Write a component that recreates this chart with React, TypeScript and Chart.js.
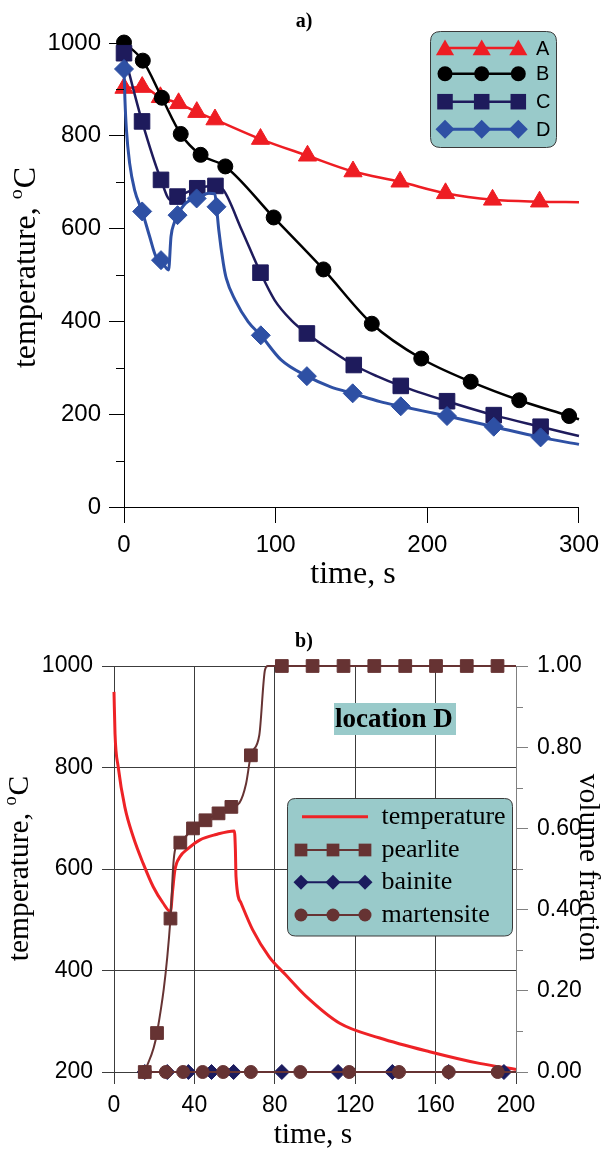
import React, { useEffect, useRef } from 'react';
import { Chart, registerables } from 'chart.js';

Chart.register(...registerables);

const SERIF = '"Liberation Serif", "Times New Roman", serif';
const SANS = '"Liberation Sans", Arial, sans-serif';

// ---------------- Panel a) data ----------------
const seriesNamesA = ['A', 'B', 'C', 'D'];
const timeTicksA = [0, 100, 200, 300];
const tempTicksA = [0, 200, 400, 600, 800, 1000];
const tempMinorTicksA = [100, 300, 500, 700, 900];

const markTimeA = [0, 12, 24, 36, 48, 60, 90, 121, 151, 182, 212, 243, 274];
const markTempA = [903, 905, 883, 870, 851, 835, 793, 757, 723, 701, 676, 662, 658];
const lineTimeA = [300];
const lineTempA = [657];

const markTimeB = [0, 12.4, 25, 37.4, 50.5, 66.8, 98.7, 131.5, 163.4, 196, 228.6, 260.6, 293.5];
const markTempB = [1001, 962, 882, 804, 759, 734, 624, 512, 395, 320, 270, 230, 196];
const lineTimeB = [300];
const lineTempB = [189];

const markTimeC = [0, 11.9, 24.4, 35.3, 48.3, 60.3, 90, 120.6, 151.5, 182.5, 213, 243.8, 274.7];
const markTempC = [978, 831, 705, 669, 687, 692, 505, 374, 306, 261, 228, 198, 173];
const lineTimeC = [30.5, 65.6, 77.6, 99.3, 110.2, 136.2, 166.7, 300];
const lineTempC = [662, 683, 597, 446, 403, 338, 282, 153];

const markTimeD = [0, 12, 24.4, 35.3, 47.9, 61, 90.2, 120.6, 150.8, 182.5, 213, 243.8, 274.7];
const markTempD = [944, 637, 532, 629, 665, 647, 370, 282, 245, 217, 196, 173, 150];
const lineTimeD = [0.6, 1.6, 3.7, 7, 16.9, 21.2, 29.4, 31, 33.1, 40.7, 56, 59.9, 62.5, 65.5, 67.5, 73.3, 81.9, 103.6, 136.2, 168.8, 300];
const lineTempD = [880, 813, 741, 683, 583, 539, 511, 583, 612, 655, 676, 675, 597, 525, 492, 446, 399, 317, 259, 227, 135];

// ---------------- Panel b) data ----------------
const seriesNamesB = ['temperature', 'pearlite', 'bainite', 'martensite'];
const timeTicksB = [0, 40, 80, 120, 160, 200];
const tempTicksB = [200, 400, 600, 800, 1000];
const fracTicksB = [0, 0.2, 0.4, 0.6, 0.8, 1.0];
const fracMinorTicksB = [0.1, 0.3, 0.5, 0.7, 0.9];

const tempTimeB = [0, 0.5, 2.1, 5.4, 9.6, 14.5, 19.5, 24.4, 28.1, 29.2, 30.3, 32.8, 36.8, 42.6, 50.8, 59.9, 60.4, 60.7, 63.2, 69, 77.2, 85.5, 95.6, 112.3, 132.2, 157, 181.8, 200];
const tempValB = [949, 867, 801, 722, 663, 611, 565, 533, 516, 559, 598, 624, 640, 657, 668, 675, 637, 585, 533, 480, 427, 391, 349, 296, 267, 240, 217, 205];

const markTimeP = [15.3, 21.4, 28.1, 33, 39.3, 45.5, 52, 58.4, 68.1, 83.5, 98.8, 114.2, 129.5, 144.9, 160.2, 175.5, 190.8];
const markFracP = [0, 0.096, 0.378, 0.565, 0.6, 0.62, 0.637, 0.653, 0.78, 1, 1, 1, 1, 1, 1, 1, 1];
const lineTimeP = [29.5, 30.5, 62.4, 65.7, 72.3, 75.1, 76.5, 200];
const lineFracP = [0.51, 0.55, 0.663, 0.71, 0.83, 0.99, 1, 1];

const markTimeBa = [15.3, 26.5, 37, 48.5, 59.5, 83.5, 111.5, 138.5, 166.5, 194];
const markFracBa = [0, 0, 0, 0, 0, 0, 0, 0, 0, 0];
const lineTimeBa = [200];
const lineFracBa = [0];

const markTimeM = [15.3, 25.8, 34.4, 44.1, 54.3, 68.1, 92.7, 117, 141.8, 166.5, 190.9];
const markFracM = [0, 0, 0, 0, 0, 0, 0, 0, 0, 0, 0];
const lineTimeM = [200];
const lineFracM = [0];

// ---------------- styles ----------------
const styleA: Record<string, any> = {
  A: { color: '#EE1D23', point: 'triangle', r: 10.5, width: 2.5, order: 3 },
  B: { color: '#000000', point: 'circle', r: 7.5, width: 2.5, order: 2 },
  C: { color: '#1E1B5C', point: 'rect', r: 11, width: 2.5, order: 1 },
  D: { color: '#2E50A4', point: 'rectRot', r: 9.5, width: 3, order: 0 },
};
const styleB: Record<string, any> = {
  temperature: { color: '#EE2226', point: 'line', r: 0, width: 3, order: 3 },
  pearlite: { color: '#663333', point: 'rect', r: 9, width: 2, order: 0 },
  bainite: { color: '#1B1B5E', point: 'rectRot', r: 7.5, width: 2, order: 2 },
  martensite: { color: '#663333', point: 'circle', r: 6.5, width: 2, order: 1 },
};
const LEGEND_BG = '#99CACA';
const LEGEND_BORDER = '#3a3a3a';
const GRID_B = '#3c3c3c';

type P = { x: number; y: number; m: boolean };
function merge(mx: number[], my: number[], lx: number[], ly: number[]): P[] {
  const pts: P[] = [];
  mx.forEach((x, i) => pts.push({ x, y: my[i], m: true }));
  lx.forEach((x, i) => pts.push({ x, y: ly[i], m: false }));
  pts.sort((a, b) => a.x - b.x);
  return pts;
}

function makeDataset(label: string, pts: P[], st: any, yAxisID?: string) {
  const ds: any = {
    label,
    data: pts.map((p) => ({ x: p.x, y: p.y })),
    borderColor: st.color,
    backgroundColor: st.color,
    borderWidth: st.width,
    pointStyle: st.point === 'line' ? 'circle' : st.point,
    pointRadius: pts.map((p) => (p.m ? st.r : 0)),
    pointHoverRadius: pts.map((p) => (p.m ? st.r : 0)),
    pointBackgroundColor: st.color,
    pointBorderColor: st.color,
    pointBorderWidth: 1,
    cubicInterpolationMode: 'monotone',
    fill: false,
    clip: false,
    order: st.order,
  };
  if (yAxisID) ds.yAxisID = yAxisID;
  return ds;
}

function drawMarker(ctx: CanvasRenderingContext2D, style: string, x: number, y: number, r: number, color: string) {
  ctx.fillStyle = color;
  ctx.beginPath();
  if (style === 'triangle') {
    ctx.moveTo(x, y - r);
    ctx.lineTo(x + r * 0.866, y + r / 2);
    ctx.lineTo(x - r * 0.866, y + r / 2);
    ctx.closePath();
  } else if (style === 'circle') {
    ctx.arc(x, y, r, 0, Math.PI * 2);
  } else if (style === 'rect') {
    const s = r * Math.SQRT1_2;
    ctx.rect(x - s, y - s, 2 * s, 2 * s);
  } else if (style === 'rectRot') {
    ctx.moveTo(x - r, y);
    ctx.lineTo(x, y - r);
    ctx.lineTo(x + r, y);
    ctx.lineTo(x, y + r);
    ctx.closePath();
  }
  ctx.fill();
}

function roundRect(ctx: CanvasRenderingContext2D, x: number, y: number, w: number, h: number, r: number) {
  ctx.beginPath();
  ctx.moveTo(x + r, y);
  ctx.lineTo(x + w - r, y);
  ctx.quadraticCurveTo(x + w, y, x + w, y + r);
  ctx.lineTo(x + w, y + h - r);
  ctx.quadraticCurveTo(x + w, y + h, x + w - r, y + h);
  ctx.lineTo(x + r, y + h);
  ctx.quadraticCurveTo(x, y + h, x, y + h - r);
  ctx.lineTo(x, y + r);
  ctx.quadraticCurveTo(x, y, x + r, y);
  ctx.closePath();
}

function drawTempTitle(ctx: CanvasRenderingContext2D, x: number, y: number, rot: number, size: number) {
  const main = 'temperature, ';
  ctx.save();
  ctx.translate(x, y);
  ctx.rotate(rot);
  ctx.fillStyle = '#000';
  ctx.textAlign = 'left';
  ctx.textBaseline = 'alphabetic';
  const fMain = `${size}px ${SERIF}`;
  const fSup = `${(size * 0.62).toFixed(1)}px ${SERIF}`;
  ctx.font = fMain;
  const w1 = ctx.measureText(main).width;
  const wC = ctx.measureText('C').width;
  ctx.font = fSup;
  const wo = ctx.measureText('o').width;
  const total = w1 + wo + 1 + wC;
  let sx = -total / 2;
  ctx.font = fMain;
  ctx.fillText(main, sx, 0);
  sx += w1;
  ctx.font = fSup;
  ctx.fillText('o', sx, -size * 0.4);
  sx += wo + 1;
  ctx.font = fMain;
  ctx.fillText('C', sx, 0);
  ctx.restore();
}

function drawMinorTicks(ctx: CanvasRenderingContext2D, scale: any, values: number[], x0: number, x1: number, color: string) {
  ctx.save();
  ctx.strokeStyle = color;
  ctx.lineWidth = 1;
  values.forEach((v) => {
    const py = Math.round(scale.getPixelForValue(v)) + 0.5;
    ctx.beginPath();
    ctx.moveTo(x0, py);
    ctx.lineTo(x1, py);
    ctx.stroke();
  });
  ctx.restore();
}

const panelAPlugin = {
  id: 'panelA',
  afterDraw(chart: any) {
    const ctx: CanvasRenderingContext2D = chart.ctx;
    const area = chart.chartArea;
    drawMinorTicks(ctx, chart.scales.y, tempMinorTicksA, area.left - 8, area.left, '#000');
    ctx.save();
    // panel label
    ctx.fillStyle = '#000';
    ctx.font = `bold 20px ${SERIF}`;
    ctx.textAlign = 'center';
    ctx.textBaseline = 'middle';
    ctx.fillText('a)', 304, 22);
    // axis titles
    drawTempTitle(ctx, 35, 267.5, -Math.PI / 2, 32);
    ctx.font = `32px ${SERIF}`;
    ctx.textAlign = 'center';
    ctx.textBaseline = 'alphabetic';
    ctx.fillText('time, s', 353, 583);
    // legend
    roundRect(ctx, 430.5, 31.5, 126, 116, 10);
    ctx.fillStyle = LEGEND_BG;
    ctx.fill();
    ctx.strokeStyle = LEGEND_BORDER;
    ctx.lineWidth = 1;
    ctx.stroke();
    const rowY = [48, 73.7, 101.7, 129.3];
    const mx = [445, 481.7, 518.3];
    seriesNamesA.forEach((name, i) => {
      const st = styleA[name];
      const y = rowY[i];
      ctx.strokeStyle = st.color;
      ctx.lineWidth = st.width;
      ctx.beginPath();
      ctx.moveTo(mx[0], y);
      ctx.lineTo(mx[2], y);
      ctx.stroke();
      const my = st.point === 'triangle' ? y + 2 : y;
      mx.forEach((x) => drawMarker(ctx, st.point, x, my, st.r, st.color));
      ctx.fillStyle = '#000';
      ctx.font = `20px ${SANS}`;
      ctx.textAlign = 'left';
      ctx.textBaseline = 'middle';
      ctx.fillText(name, 536, y + 1);
    });
    ctx.restore();
  },
};

const panelBPlugin = {
  id: 'panelB',
  afterDraw(chart: any) {
    const ctx: CanvasRenderingContext2D = chart.ctx;
    const area = chart.chartArea;
    drawMinorTicks(ctx, chart.scales.y1, fracMinorTicksB, area.right, area.right + 7, '#808080');
    ctx.save();
    ctx.fillStyle = '#000';
    ctx.font = `bold 20px ${SERIF}`;
    ctx.textAlign = 'center';
    ctx.textBaseline = 'middle';
    ctx.fillText('b)', 304, 41.5);
    // axis titles
    drawTempTitle(ctx, 28, 268.5, -Math.PI / 2, 29.5);
    ctx.save();
    ctx.translate(580, 267.5);
    ctx.rotate(Math.PI / 2);
    ctx.font = `29.5px ${SERIF}`;
    ctx.textAlign = 'center';
    ctx.textBaseline = 'alphabetic';
    ctx.fillStyle = '#000';
    ctx.fillText('volume fraction', 0, 0);
    ctx.restore();
    ctx.font = `29.5px ${SERIF}`;
    ctx.textAlign = 'center';
    ctx.textBaseline = 'alphabetic';
    ctx.fillText('time, s', 313, 543);
    // location label
    ctx.fillStyle = LEGEND_BG;
    ctx.fillRect(334, 103, 122, 32);
    ctx.fillStyle = '#000';
    ctx.font = `bold 27px ${SERIF}`;
    ctx.textAlign = 'left';
    ctx.fillText('location D', 335, 127.3);
    // legend
    roundRect(ctx, 287.5, 198.5, 225, 137.5, 8);
    ctx.fillStyle = LEGEND_BG;
    ctx.fill();
    ctx.strokeStyle = LEGEND_BORDER;
    ctx.lineWidth = 1;
    ctx.stroke();
    const rowY = [216.7, 250, 282.3, 315];
    const mx = [301, 333, 365];
    seriesNamesB.forEach((name, i) => {
      const st = styleB[name];
      const y = rowY[i];
      ctx.strokeStyle = st.color;
      ctx.lineWidth = st.width;
      ctx.beginPath();
      if (st.point === 'line') {
        ctx.moveTo(302, y);
        ctx.lineTo(368, y);
      } else {
        ctx.moveTo(mx[0], y);
        ctx.lineTo(mx[2], y);
      }
      ctx.stroke();
      if (st.point !== 'line') mx.forEach((x) => drawMarker(ctx, st.point, x, y, st.r, st.color));
      ctx.fillStyle = '#000';
      ctx.font = `26px ${SERIF}`;
      ctx.textAlign = 'left';
      ctx.textBaseline = 'middle';
      ctx.fillText(name, 381.5, y);
    });
    ctx.restore();
  },
};

function configA(): any {
  const raw: Record<string, P[]> = {
    A: merge(markTimeA, markTempA, lineTimeA, lineTempA),
    B: merge(markTimeB, markTempB, lineTimeB, lineTempB),
    C: merge(markTimeC, markTempC, lineTimeC, lineTempC),
    D: merge(markTimeD, markTempD, lineTimeD, lineTempD),
  };
  const tickFont = { family: SANS, size: 24 };
  return {
    type: 'line',
    data: { datasets: seriesNamesA.map((n) => makeDataset(n, raw[n], styleA[n])) },
    options: {
      responsive: false,
      animation: false,
      devicePixelRatio: 1,
      layout: { padding: { top: 43, right: 22, left: 0, bottom: 0 } },
      plugins: { legend: { display: false }, tooltip: { enabled: false }, title: { display: false } },
      scales: {
        x: {
          type: 'linear',
          min: 0,
          max: 300,
          afterBuildTicks: (s: any) => { s.ticks = timeTicksA.map((v) => ({ value: v })); },
          ticks: { font: tickFont, color: '#000', padding: 8, maxRotation: 0, autoSkip: false, callback: (v: any) => String(v) },
          grid: { drawOnChartArea: false, drawTicks: true, tickLength: 16, color: '#000', tickColor: '#000', lineWidth: 1 },
          border: { display: true, color: '#000', width: 1 },
          afterFit: (s: any) => { s.height = 93; },
        },
        y: {
          type: 'linear',
          min: 0,
          max: 1000,
          afterBuildTicks: (s: any) => { s.ticks = tempTicksA.map((v) => ({ value: v })); },
          ticks: { font: tickFont, color: '#000', padding: 8, autoSkip: false, callback: (v: any) => String(v) },
          grid: { drawOnChartArea: false, drawTicks: true, tickLength: 15, color: '#000', tickColor: '#000', lineWidth: 1 },
          border: { display: true, color: '#000', width: 1 },
          afterFit: (s: any) => { s.width = 124; },
        },
      },
    },
    plugins: [panelAPlugin],
  };
}

function configB(): any {
  const tempPts = tempTimeB.map((x, i) => ({ x, y: tempValB[i], m: false }));
  const datasets = [
    makeDataset('temperature', tempPts, styleB.temperature, 'y'),
    makeDataset('pearlite', merge(markTimeP, markFracP, lineTimeP, lineFracP), styleB.pearlite, 'y1'),
    makeDataset('bainite', merge(markTimeBa, markFracBa, lineTimeBa, lineFracBa), styleB.bainite, 'y1'),
    makeDataset('martensite', merge(markTimeM, markFracM, lineTimeM, lineFracM), styleB.martensite, 'y1'),
  ];
  const tickFont = { family: SANS, size: 23 };
  return {
    type: 'line',
    data: { datasets },
    options: {
      responsive: false,
      animation: false,
      devicePixelRatio: 1,
      layout: { padding: { top: 66, right: 0, left: 0, bottom: 0 } },
      plugins: { legend: { display: false }, tooltip: { enabled: false }, title: { display: false } },
      scales: {
        x: {
          type: 'linear',
          min: 0,
          max: 200,
          afterBuildTicks: (s: any) => { s.ticks = timeTicksB.map((v) => ({ value: v })); },
          ticks: { font: tickFont, color: '#000', padding: 8, maxRotation: 0, autoSkip: false, callback: (v: any) => String(v) },
          grid: { drawOnChartArea: true, drawTicks: true, tickLength: 12, color: GRID_B, lineWidth: 1 },
          border: { display: true, color: GRID_B, width: 1 },
          afterFit: (s: any) => { s.height = 79; },
        },
        y: {
          type: 'linear',
          position: 'left',
          min: 200,
          max: 1000,
          afterBuildTicks: (s: any) => { s.ticks = tempTicksB.map((v) => ({ value: v })); },
          ticks: { font: tickFont, color: '#000', padding: 9, autoSkip: false, callback: (v: any) => String(v) },
          grid: { drawOnChartArea: true, drawTicks: true, tickLength: 12, color: GRID_B, lineWidth: 1 },
          border: { display: true, color: GRID_B, width: 1 },
          afterFit: (s: any) => { s.width = 114; },
        },
        y1: {
          type: 'linear',
          position: 'right',
          min: 0,
          max: 1,
          afterBuildTicks: (s: any) => { s.ticks = fracTicksB.map((v) => ({ value: v })); },
          ticks: { font: tickFont, color: '#000', padding: 9, autoSkip: false, callback: (v: any) => Number(v).toFixed(2) },
          grid: { drawOnChartArea: false, drawTicks: true, tickLength: 12, color: '#808080', lineWidth: 1 },
          border: { display: true, color: '#808080', width: 1 },
          afterFit: (s: any) => { s.width = 91; },
        },
      },
    },
    plugins: [panelBPlugin],
  };
}

export default function App() {
  const topRef = useRef<HTMLCanvasElement>(null);
  const botRef = useRef<HTMLCanvasElement>(null);
  useEffect(() => {
    const c1 = new Chart(topRef.current as HTMLCanvasElement, configA());
    const c2 = new Chart(botRef.current as HTMLCanvasElement, configB());
    return () => {
      c1.destroy();
      c2.destroy();
    };
  }, []);
  return (
    <div style={{ position: 'absolute', left: 0, top: 0, width: 607, height: 1151, background: '#fff' }}>
      <canvas ref={topRef} width={607} height={600} style={{ position: 'absolute', left: 0, top: 0, width: 607, height: 600 }} />
      <canvas ref={botRef} width={607} height={551} style={{ position: 'absolute', left: 0, top: 600, width: 607, height: 551 }} />
    </div>
  );
}
